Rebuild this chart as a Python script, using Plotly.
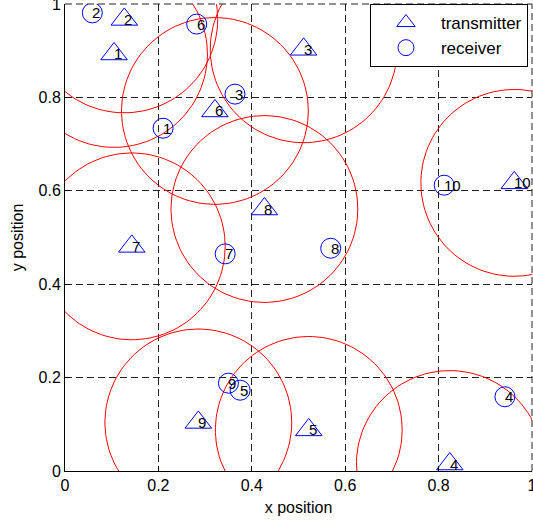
import numpy as np
import plotly.graph_objects as go

# transmitter positions
tx_x = [0.105, 0.127, 0.511, 0.824, 0.522, 0.321, 0.143, 0.427, 0.2855, 0.962]
tx_y = [0.893, 0.967, 0.903, 0.015, 0.088, 0.771, 0.481, 0.561, 0.104, 0.617]
# receiver positions
rx_x = [0.210, 0.0585, 0.364, 0.942, 0.375, 0.282, 0.343, 0.569, 0.350, 0.812]
rx_y = [0.734, 0.981, 0.807, 0.159, 0.173, 0.957, 0.465, 0.477, 0.188, 0.612]
labels = [str(i) for i in range(1, 11)]
radius = 0.2
tick_vals = [0, 0.2, 0.4, 0.6, 0.8, 1]
tick_text = ["0", "0.2", "0.4", "0.6", "0.8", "1"]

FONT = "Liberation Sans, Arial, sans-serif"
GRID_DASH = "7px,4px"
GRID_COLOR = "#222222"

fig = go.Figure()

theta = np.linspace(0, 2 * np.pi, 120)
for cx, cy in zip(tx_x, tx_y):
    fig.add_trace(go.Scatter(
        x=cx + radius * np.cos(theta), y=cy + radius * np.sin(theta),
        mode="lines", line=dict(color="#ff0000", width=1),
        showlegend=False, hoverinfo="skip"))

fig.add_trace(go.Scatter(
    x=tx_x, y=tx_y, mode="markers", name="transmitter",
    marker=dict(symbol="triangle-up-open", size=23, color="#0000ff",
                line=dict(color="#0000ff", width=1))))
fig.add_trace(go.Scatter(
    x=rx_x, y=rx_y, mode="markers", name="receiver",
    marker=dict(symbol="circle-open", size=20, color="#0000ff",
                line=dict(color="#0000ff", width=1))))

for xs, ys in ((tx_x, tx_y), (rx_x, rx_y)):
    for x, y, t in zip(xs, ys, labels):
        fig.add_annotation(x=x, y=y, text=t, showarrow=False,
                           xanchor="left", yanchor="middle",
                           xshift=-1, borderpad=0,
                           font=dict(family=FONT, size=15, color="black"))

# dashed grid lines along the top and right edges of the plot area
fig.add_shape(type="line", xref="paper", yref="paper", x0=0, x1=1, y0=1, y1=1,
              line=dict(color=GRID_COLOR, width=1, dash=GRID_DASH), layer="below")
fig.add_shape(type="line", xref="paper", yref="paper", x0=1, x1=1, y0=0, y1=1,
              line=dict(color=GRID_COLOR, width=1, dash=GRID_DASH), layer="below")

axis_common = dict(
    range=[0, 1], tickvals=tick_vals, ticktext=tick_text,
    showline=True, linecolor="black", linewidth=1, mirror=False,
    ticks="inside", ticklen=5, tickcolor="black",
    showgrid=True, gridcolor=GRID_COLOR, gridwidth=1, griddash=GRID_DASH,
    zeroline=False, ticklabeloverflow="allow", automargin=False,
    tickfont=dict(family=FONT, size=16, color="black"),
)

fig.update_layout(
    width=533, height=526,
    margin=dict(l=65, r=1, t=4, b=55, autoexpand=False),
    paper_bgcolor="white", plot_bgcolor="white",
    font=dict(family=FONT, color="black"),
    xaxis=dict(**axis_common, title=dict(text="x position", standoff=8,
                                         font=dict(family=FONT, size=16))),
    yaxis=dict(**axis_common, title=dict(text="y position", standoff=10,
                                         font=dict(family=FONT, size=16))),
    legend=dict(x=0.653, y=1, xanchor="left", yanchor="top",
                bgcolor="white", bordercolor="black", borderwidth=1,
                itemwidth=60, entrywidth=165, entrywidthmode="pixels",
                font=dict(family=FONT, size=17, color="black")),
    showlegend=True,
)

fig.write_html("out.html")
